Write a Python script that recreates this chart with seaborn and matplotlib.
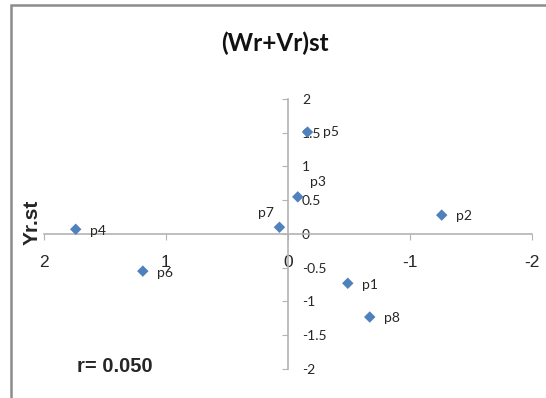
import seaborn as sns
import matplotlib.pyplot as plt
import pandas as pd
from matplotlib.patches import Rectangle

# values
labels = ['p1', 'p2', 'p3', 'p4', 'p5', 'p6', 'p7', 'p8']
wr_vr = [-0.49, -1.26, -0.08, 1.74, -0.16, 1.19, 0.07, -0.67]
yr = [-0.73, 0.28, 0.55, 0.07, 1.51, -0.55, 0.10, -1.23]
x_ticks = [2, 1, 0, -1, -2]
y_ticks = [-2, -1.5, -1, -0.5, 0, 0.5, 1, 1.5, 2]
y_ticklabels = ['-2', '-1.5', '-1', '-0.5', '0', '0.5', '1', '1.5', '2']

df = pd.DataFrame({'x': wr_vr, 'y': yr, 'lab': labels})

sns.set_style('white')
W, H = 546, 398
fig = plt.figure(figsize=(W / 100, H / 100), dpi=100)
ax = fig.add_axes([44 / W, 1 - 369 / H, 488 / W, 270 / H])

sns.scatterplot(data=df, x='x', y='y', marker='D', s=34, color='#4F81BD',
                edgecolor='none', ax=ax, clip_on=False, zorder=3)

ax.set_xlim(2, -2)
ax.set_ylim(-2, 2)
ax.set_xlabel('')
ax.set_ylabel('')

axis_col = '#B3B3B3'
ax.spines['top'].set_visible(False)
ax.spines['left'].set_visible(False)
ax.spines['bottom'].set_position(('data', 0))
ax.spines['right'].set_position(('data', 0))
for s in ['bottom', 'right']:
    ax.spines[s].set_color(axis_col)
    ax.spines[s].set_linewidth(1.2)

ax.yaxis.tick_right()
ax.set_xticks(x_ticks)
ax.set_xticklabels([str(t) for t in x_ticks], family='Liberation Sans', fontsize=12.5)
ax.set_yticks(y_ticks)
ax.set_yticklabels(y_ticklabels, family='Lato', fontsize=10, color='#262626')
ax.tick_params(axis='x', direction='out', length=4, color=axis_col, pad=11, bottom=True)
ax.tick_params(axis='y', direction='in', length=4, color=axis_col, pad=10, right=True, left=False)

offsets = {'p3': (8.5, 10.5, 'left'), 'p5': (11.5, 0, 'left'), 'p7': (-4, 10, 'right')}
for _, r in df.iterrows():
    dx, dy, ha = offsets.get(r['lab'], (10, -1, 'left'))
    ax.annotate(r['lab'], (r['x'], r['y']), xytext=(dx, dy), textcoords='offset points',
                ha=ha, va='center', family='Lato', fontsize=10, color='#262626')

fig.text(275 / W, 1 - 43 / H, '(Wr+Vr)st', ha='center', va='center',
         family='Lato', fontweight='bold', fontsize=17.5, color='#111111')
fig.text(32 / W, 1 - 222 / H, 'Yr.st', rotation=90, ha='center', va='center',
         family='Liberation Sans', fontweight='bold', fontsize=15)
fig.text(77 / W, 1 - 367 / H, 'r= 0.050', ha='left', va='center',
         family='Liberation Sans', fontweight='bold', fontsize=14.5)

# chart frame (cropped on the right and bottom)
fig.add_artist(Rectangle((11 / W, -0.2), 1.2, 1.2 - 5 / H, transform=fig.transFigure,
                         fill=False, edgecolor='#8C8C8C', linewidth=1.8))

fig.savefig('out.png', dpi=100, facecolor='white')
